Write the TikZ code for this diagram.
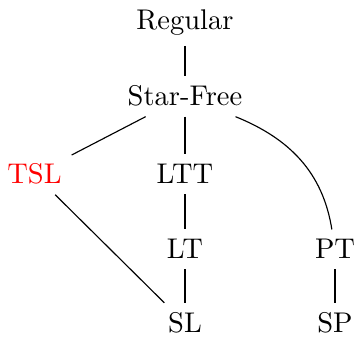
\documentclass[tikz,border=0pt]{standalone}
\begin{document}
\begin{tikzpicture}[x=0.351pt,y=-0.351pt,
  cls/.style={anchor=base},
  link/.style={draw,line width=0.4pt}]
\useasboundingbox (0,0) rectangle (357,337);
% class nodes, placed by baseline
\node[cls] (reg) at (185,30) {Regular};
\node[cls] (sf)  at (185,106) {Star-Free};
\node[cls,text=red] (tsl) at (34.5,184) {TSL};
\node[cls] (ltt) at (185,184) {LTT};
\node[cls] (lt)  at (185,259) {LT};
\node[cls] (pt)  at (335,259) {PT};
\node[cls] (sl)  at (185,333) {SL};
\node[cls] (sp)  at (335,333) {SP};
% inclusions
\path[link] (reg) -- (sf);
\path[link] (sf) -- (tsl);
\path[link] (sf) -- (ltt);
\path[link] (sf) to[out=-22,in=99] (pt);
\path[link] (ltt) -- (lt);
\path[link] (lt) -- (sl);
\path[link] (tsl) -- (sl);
\path[link] (pt) -- (sp);
\end{tikzpicture}
\end{document}
